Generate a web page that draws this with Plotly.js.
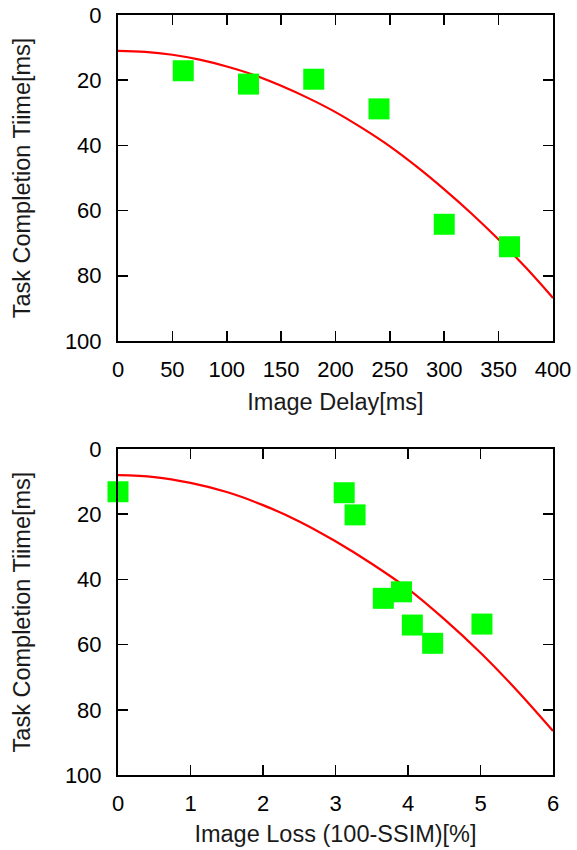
<!DOCTYPE html>
<html>
<head>
<meta charset="utf-8">
<script src="https://cdn.plot.ly/plotly-3.0.1.min.js"></script>
<style>html,body{margin:0;padding:0;background:#fff;}#chart{width:577px;height:850px;}</style>
</head>
<body>
<div id="chart"></div>
<script>
// Top panel: image delay
const delayX = [60, 120, 180, 240, 300, 360];
const delayY = [17.1, 21.2, 19.7, 28.8, 64.2, 71.1];
const delayFitX = [0, 25, 50, 75, 100, 125, 150, 175, 200, 225, 250, 275, 300, 325, 350, 375, 400];
const delayFitY = [11.0, 11.3, 12.2, 13.7, 15.8, 18.4, 21.7, 25.5, 29.8, 34.8, 40.3, 46.6, 53.5, 60.9, 68.9, 77.5, 86.8];

// Bottom panel: image loss
const lossX = [0.0, 3.12, 3.27, 3.66, 3.91, 4.06, 4.34, 5.02];
const lossY = [13.1, 13.4, 20.2, 45.8, 43.8, 54.0, 59.6, 53.7];
const lossFitX = [0, 0.5, 1, 1.5, 2, 2.5, 3, 3.5, 4, 4.5, 5, 5.5, 6];
const lossFitY = [8.0, 8.6, 10.4, 13.2, 17.2, 22.2, 28.3, 35.2, 42.9, 52.2, 62.5, 74.0, 86.5];

const yTicks = [0, 20, 40, 60, 80, 100];
const xTicksTop = [0, 50, 100, 150, 200, 250, 300, 350, 400];
const xTicksBottom = [0, 1, 2, 3, 4, 5, 6];
const xTitleTop = 'Image Delay[ms]';
const xTitleBottom = 'Image Loss (100-SSIM)[%]';
const yTitle = 'Task Completion Tiime[ms]';

const FONT = 'Liberation Sans, Arial, sans-serif';
const tickSize = 22;
const titleSize = 23.5;
const titleFont = {family: FONT, size: titleSize, color: '#1a1a1a'};

const lineStyle = {color: '#ff0000', width: 2.2, shape: 'spline'};
const markerStyle = {color: '#00ff00', symbol: 'square', size: 21, line: {width: 0}};

const traces = [
  {x: delayFitX, y: delayFitY, mode: 'lines', line: lineStyle, xaxis: 'x', yaxis: 'y', hoverinfo: 'skip'},
  {x: delayX, y: delayY, mode: 'markers', marker: markerStyle, xaxis: 'x', yaxis: 'y', cliponaxis: false},
  {x: lossFitX, y: lossFitY, mode: 'lines', line: lineStyle, xaxis: 'x2', yaxis: 'y2', hoverinfo: 'skip'},
  {x: lossX, y: lossY, mode: 'markers', marker: markerStyle, xaxis: 'x2', yaxis: 'y2', cliponaxis: false}
];

const common = {
  showline: true, linecolor: '#000', linewidth: 2, mirror: 'ticks',
  ticks: 'inside', ticklen: 10, tickwidth: 1.6, tickcolor: '#000',
  showgrid: false, zeroline: false,
  tickfont: {family: FONT, size: tickSize, color: '#000'},
  fixedrange: true
};

const layout = {
  width: 577, height: 850,
  margin: {l: 118, r: 24, t: 15, b: 75},
  paper_bgcolor: '#fff', plot_bgcolor: '#fff',
  showlegend: false,
  font: {family: FONT, size: tickSize, color: '#000'},
  xaxis: Object.assign({}, common, {
    domain: [0, 1], anchor: 'y', range: [0, 400], tickvals: xTicksTop,
    ticklabelstandoff: 8,
    title: {text: xTitleTop, font: titleFont, standoff: 12}
  }),
  yaxis: Object.assign({}, common, {
    domain: [0.5711, 1], anchor: 'x', range: [100, 0], tickvals: yTicks,
    ticklabelstandoff: 10,
    title: {text: yTitle, font: titleFont, standoff: 28}
  }),
  xaxis2: Object.assign({}, common, {
    domain: [0, 1], anchor: 'y2', range: [0, 6], tickvals: xTicksBottom,
    ticklabelstandoff: 8,
    title: {text: xTitleBottom, font: titleFont, standoff: 10}
  }),
  yaxis2: Object.assign({}, common, {
    domain: [0, 0.4289], anchor: 'x2', range: [100, 0], tickvals: yTicks,
    ticklabelstandoff: 10,
    title: {text: yTitle, font: titleFont, standoff: 28}
  })
};

Plotly.newPlot('chart', traces, layout, {displayModeBar: false, staticPlot: true});
</script>
</body>
</html>
